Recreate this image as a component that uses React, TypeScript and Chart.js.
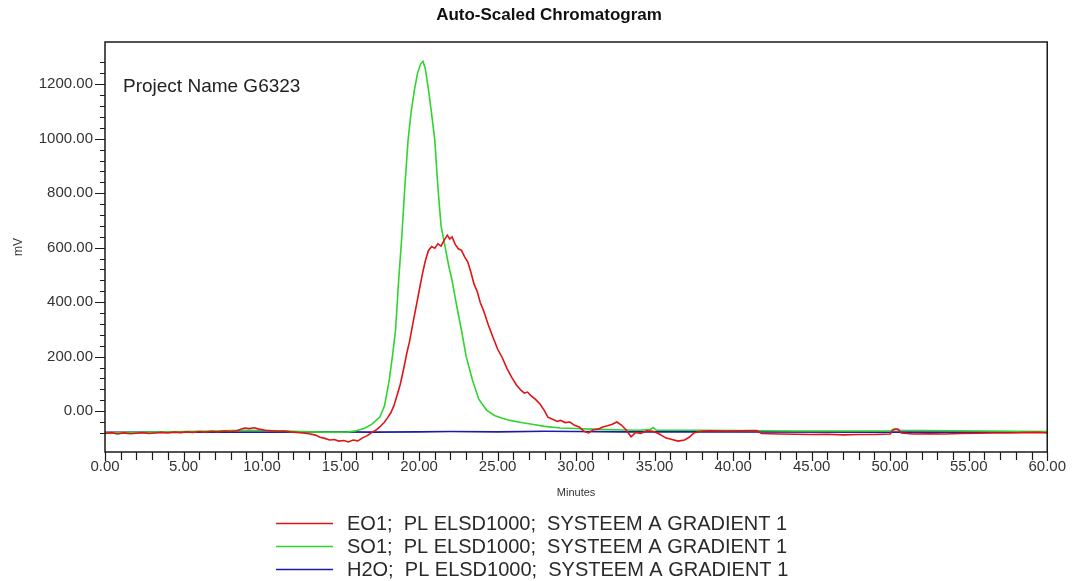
import React, { useEffect, useRef } from "react";
import { Chart, registerables } from "chart.js";

Chart.register(...registerables);

const chartTitle = "Auto-Scaled Chromatogram";
const projectText = "Project Name G6323";
const xAxisTitle = "Minutes";
const yAxisTitle = "mV";

const seriesLabels = [
  "EO1;  PL ELSD1000;  SYSTEEM A GRADIENT 1",
  "SO1;  PL ELSD1000;  SYSTEEM A GRADIENT 1",
  "H2O;  PL ELSD1000;  SYSTEEM A GRADIENT 1",
];
const seriesColors = ["#e01414", "#2fd52f", "#1c1ca8"];

const eo1Times = [
  0, 0.4, 0.8, 1.2, 1.6, 2.0, 2.4, 2.8, 3.2, 3.6, 4.0, 4.4, 4.8, 5.2, 5.6, 6.0, 6.4, 6.8, 7.2, 7.6,
  8.0, 8.4, 8.7, 8.9, 9.2, 9.5, 9.8, 10.2, 10.6, 11.0, 11.4, 11.8, 12.2, 12.6, 13.0, 13.4, 13.7, 14.0,
  14.3, 14.6, 14.9, 15.2, 15.5, 15.8, 16.1, 16.4, 16.7, 17.0, 17.3, 17.5, 17.8, 18.0, 18.2, 18.4, 18.6,
  18.8, 19.0, 19.2, 19.4, 19.6, 19.8, 20.0, 20.2, 20.4, 20.6, 20.8, 21.0, 21.2, 21.4, 21.6, 21.8, 21.95,
  22.1, 22.3, 22.5, 22.7, 22.9, 23.1, 23.3, 23.5, 23.7, 23.9, 24.1, 24.4, 24.7, 25.0, 25.3, 25.6, 25.9,
  26.2, 26.5, 26.7, 26.9, 27.1, 27.4, 27.7, 28.0, 28.2, 28.5, 28.8, 29.0, 29.3, 29.6, 29.9, 30.2, 30.5,
  30.8, 31.1, 31.4, 31.7, 32.0, 32.3, 32.6, 32.9, 33.2, 33.5, 33.8, 34.1, 34.5, 34.9, 35.3, 35.7, 36.1,
  36.5, 36.9, 37.2, 37.5, 37.9, 38.5, 39.5, 40.5, 41.5, 41.8, 43, 44, 45, 46, 47, 48, 49, 50.0, 50.2,
  50.5, 50.7, 51.5, 52.5, 53.5, 54.5, 55.5, 56.5, 57.5, 58.5, 59.5, 60,
];
const eo1Values = [
  -82, -79, -84, -80, -83, -81, -79, -82, -80, -78, -80, -77, -79, -76, -78, -75, -77, -74, -76, -73,
  -75, -72, -66, -62, -64, -61, -66, -70, -72, -74, -73, -76, -78, -80, -83, -88, -96, -100,
  -106, -104, -110, -108, -113, -106, -109, -98, -90, -78, -68, -58, -40, -24, -6, 20, 58,
  98, 150, 208, 258, 320, 380, 440, 500, 552, 590, 604, 598, 614, 606, 628, 646, 632,
  640, 612, 596, 590, 566, 548, 510, 466, 440, 398, 370, 318, 272, 228, 196, 156, 124,
  96, 76, 66, 70, 58, 44, 26, 0, -22, -30, -38, -34, -42, -40, -52, -58, -74,
  -80, -68, -66, -58, -54, -48, -40, -52, -70, -94, -78, -82, -72, -74, -84, -98, -104,
  -110, -106, -96, -80, -74, -72, -73, -72, -71, -82, -84, -85, -86, -85, -87, -86, -86, -84, -68,
  -66, -80, -84, -83, -84, -82, -81, -80, -80, -79, -78, -80,
];

const so1Times = [
  0, 1, 2, 3, 4, 5, 6, 7, 8, 9, 10, 11, 12, 13, 14, 15, 15.5, 16, 16.5, 17, 17.5, 17.8, 18.1, 18.3,
  18.5, 18.7, 18.9, 19.1, 19.3, 19.5, 19.7, 19.9, 20.1, 20.25, 20.4, 20.6, 20.8, 21.0, 21.2, 21.4,
  21.6, 21.9, 22.1, 22.4, 22.7, 23.0, 23.4, 23.8, 24.3, 24.8, 25.3, 25.8, 26.5, 27.2, 28, 29, 30, 31,
  32, 33, 34, 34.7, 34.9, 35.1, 36, 38, 40, 42, 44, 46, 48, 50, 50.3, 50.6, 52, 54, 56, 58, 60,
];
const so1Values = [
  -80, -79, -78, -77, -76, -75, -74, -73, -71, -70, -71, -72, -74, -76, -77, -77, -76, -72, -64, -48,
  -22, 20, 114, 200, 297, 480, 640, 830, 995, 1100, 1178, 1240, 1274, 1284, 1256, 1180, 1090, 995,
  820, 680, 620, 530, 480, 385, 297, 200, 114, 44, 4, -16, -26, -34, -42, -48, -56, -62, -64, -66,
  -68, -69, -70, -68, -60, -70, -70, -70, -71, -72, -73, -73, -73, -73, -64, -70, -71, -72, -73, -74,
  -75,
];

const h2oTimes = [0, 5, 10, 15, 17, 20, 22, 25, 28, 30, 33, 40, 50, 60];
const h2oValues = [-78, -77, -77, -76, -77, -76, -75, -76, -74, -75, -76, -76, -77, -77];

const xTickMin = 0;
const xTickMax = 60;
const yMin = -150;
const yMax = 1355;

const FONT = "'Liberation Sans', Arial, Helvetica, sans-serif";

function isMultiple(v: number, step: number) {
  const r = v / step;
  return Math.abs(r - Math.round(r)) < 1e-6;
}

const decorPlugin = {
  id: "decor",
  afterDraw(chart: any) {
    const { ctx, chartArea: ca, scales } = chart;
    const xs = scales.x;
    const ys = scales.y;
    ctx.save();
    ctx.strokeStyle = "#1a1a1a";
    ctx.lineWidth = 1.5;
    ctx.strokeRect(ca.left, ca.top, ca.right - ca.left, ca.bottom - ca.top);
    ctx.lineWidth = 1.2;
    ctx.beginPath();
    ys.ticks.forEach((t: any) => {
      if (!isMultiple(t.value, 40)) return;
      const py = Math.round(ys.getPixelForValue(t.value)) + 0.5;
      const len = isMultiple(t.value, 200) ? 10 : 5;
      ctx.moveTo(ca.left - len, py);
      ctx.lineTo(ca.left, py);
    });
    xs.ticks.forEach((t: any) => {
      if (!isMultiple(t.value, 1)) return;
      const px = Math.round(xs.getPixelForValue(t.value)) + 0.5;
      const len = isMultiple(t.value, 5) ? 9 : 8;
      ctx.moveTo(px, ca.bottom);
      ctx.lineTo(px, ca.bottom + len);
    });
    ctx.stroke();

    ctx.fillStyle = "#111";
    ctx.font = `bold 17px ${FONT}`;
    ctx.textAlign = "center";
    ctx.textBaseline = "middle";
    ctx.fillText(chartTitle, 549, 15);

    ctx.font = `19px ${FONT}`;
    ctx.textAlign = "left";
    ctx.fillStyle = "#222";
    ctx.fillText(projectText, 123, 87);

    const rows = [523, 546, 569];
    chart.data.datasets.forEach((ds: any, i: number) => {
      const y = rows[i];
      ctx.strokeStyle = ds.borderColor;
      ctx.lineWidth = 1.5;
      ctx.beginPath();
      ctx.moveTo(276, y + 0.5);
      ctx.lineTo(333, y + 0.5);
      ctx.stroke();
      ctx.fillStyle = "#2a2a2a";
      ctx.font = `20px ${FONT}`;
      ctx.textAlign = "left";
      ctx.textBaseline = "middle";
      ctx.fillText(ds.label, 347, y + 1);
    });
    ctx.restore();
  },
};

export default function App() {
  const ref = useRef<HTMLCanvasElement | null>(null);

  useEffect(() => {
    if (!ref.current) return;
    const mk = (ts: number[], vs: number[]) => ts.map((t, i) => ({ x: t, y: vs[i] }));
    const chart = new Chart(ref.current, {
      type: "line",
      data: {
        datasets: [
          {
            label: seriesLabels[0],
            data: mk(eo1Times, eo1Values),
            borderColor: seriesColors[0],
            borderWidth: 1.6,
            pointRadius: 0,
            tension: 0,
          },
          {
            label: seriesLabels[1],
            data: mk(so1Times, so1Values),
            borderColor: seriesColors[1],
            borderWidth: 1.6,
            pointRadius: 0,
            tension: 0,
          },
          {
            label: seriesLabels[2],
            data: mk(h2oTimes, h2oValues),
            borderColor: seriesColors[2],
            borderWidth: 1.6,
            pointRadius: 0,
            tension: 0,
          },
        ],
      },
      options: {
        responsive: false,
        animation: false,
        events: [],
        layout: { padding: { left: 0, top: 42, right: 22, bottom: 0 } },
        plugins: {
          legend: { display: false },
          title: { display: false },
          tooltip: { enabled: false },
        },
        scales: {
          x: {
            type: "linear",
            min: xTickMin,
            max: xTickMax,
            afterFit: (s: any) => {
              s.height = 129;
            },
            grid: { display: false, drawTicks: false },
            border: { display: false },
            ticks: {
              stepSize: 1,
              autoSkip: false,
              maxRotation: 0,
              padding: 6,
              color: "#333",
              font: { family: FONT, size: 15 },
              callback: (v: any) => (isMultiple(Number(v), 5) ? Number(v).toFixed(2) : ""),
            },
            title: {
              display: true,
              text: xAxisTitle,
              color: "#333",
              font: { family: FONT, size: 11 },
              padding: { top: 0, bottom: 81 },
            },
          },
          y: {
            type: "linear",
            min: yMin,
            max: yMax,
            afterFit: (s: any) => {
              s.width = 105;
            },
            grid: { display: false, drawTicks: false },
            border: { display: false },
            ticks: {
              stepSize: 40,
              autoSkip: false,
              padding: 12,
              color: "#333",
              font: { family: FONT, size: 15 },
              callback: (v: any) => (isMultiple(Number(v), 200) ? Number(v).toFixed(2) : ""),
            },
            title: {
              display: true,
              text: yAxisTitle,
              color: "#333",
              font: { family: FONT, size: 12 },
              padding: { top: 11, bottom: 0 },
            },
          },
        },
      },
      plugins: [decorPlugin],
    });
    return () => chart.destroy();
  }, []);

  return (
    <div style={{ position: "absolute", left: 0, top: 0, width: 1072, height: 581, background: "#fff" }}>
      <canvas ref={ref} width={1072} height={581} style={{ display: "block" }} />
    </div>
  );
}
